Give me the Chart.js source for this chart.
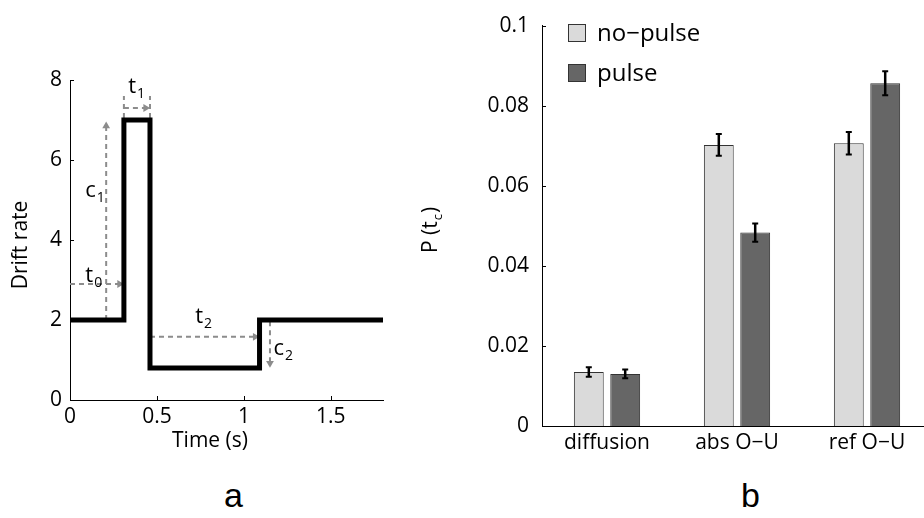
<!DOCTYPE html>
<html>
<head>
<meta charset="utf-8">
<script src="https://cdn.jsdelivr.net/npm/chart.js@4.4.1/dist/chart.umd.min.js"></script>
<style>
  body { margin: 0; width: 924px; height: 518px; overflow: hidden; background: #fff; position: relative; font-family: "Open Sans", sans-serif; }
  #boxA { position: absolute; left: 0; top: 0; }
  #boxB { position: absolute; left: 400px; top: 0; }
  .key { position: absolute; left: 568px; width: 16px; height: 16px; border: 1px solid #333; }
  .keyText { position: absolute; left: 597px; font-size: 24px; line-height: 24px; color: #000; }
  .panel { position: absolute; top: 476px; font-family: "Liberation Sans", Arial, sans-serif; font-size: 34px; color: #000; }
</style>
</head>
<body>
<div id="boxA"><canvas id="driftChart" width="400" height="470"></canvas></div>
<div id="boxB"><canvas id="probChart" width="532" height="470"></canvas></div>

<div class="key" style="top:24px;background:#dadada"></div>
<div class="keyText" style="top:20px">no−pulse</div>
<div class="key" style="top:64px;background:#666"></div>
<div class="keyText" style="top:60px">pulse</div>

<div class="panel" style="left:224px">a</div>
<div class="panel" style="left:741px">b</div>

<script>
// panel a: drift rate step profile
const timePoints = [0, 0.31, 0.46, 1.09, 1.8];
const driftRates = [2, 7, 0.8, 2, 2];
const timeTicks = [0, 0.5, 1, 1.5];
const driftTicks = [0, 2, 4, 6, 8];

// dashed annotation arrows, [start, end] in data units, arrowhead direction in degrees
const arrowT0 = [[0, 2.9], [0.285, 2.9]];
const arrowC1 = [[0.208, 2], [0.208, 6.85]];
const arrowT1 = [[0.31, 7.3], [0.435, 7.3]];
const barT1a = [[0.31, 7.05], [0.31, 7.6]];
const barT1b = [[0.46, 7.05], [0.46, 7.6]];
const arrowT2 = [[0.46, 1.58], [1.065, 1.58]];
const arrowC2 = [[1.15, 1.97], [1.15, 0.92]];
const arrowDirs = [90, 0, 90, null, null, 90, 180];

// annotation labels: main letter, subscript, anchor (left, baseline) in data units
const annLabels = [
  { t: 't', s: '0', x: 0.088, y: 2.95 },
  { t: 'c', s: '1', x: 0.088, y: 5.08 },
  { t: 't', s: '1', x: 0.335, y: 7.68 },
  { t: 't', s: '2', x: 0.72, y: 1.93 },
  { t: 'c', s: '2', x: 1.17, y: 1.13 }
];

// panel b: probability of crossing
const models = ['diffusion', 'abs O\u2212U', 'ref O\u2212U'];
const noPulse = [0.0135, 0.0702, 0.0706];
const pulse = [0.013, 0.0483, 0.0856];
const noPulseErr = [0.0012, 0.0027, 0.0028];
const pulseErr = [0.0011, 0.0023, 0.003];
const probTicks = [0, 0.02, 0.04, 0.06, 0.08, 0.1];

const tickFont = { family: 'Open Sans', size: 21 };
const grey = '#8c8c8c';
const plainLabel = v => String(v);

// MATLAB style ticks pointing into the axes
const inwardTicks = {
  id: 'inwardTicks',
  afterDraw(chart) {
    const ctx = chart.ctx;
    const a = chart.chartArea;
    ctx.save();
    ctx.strokeStyle = '#000';
    ctx.lineWidth = 1;
    ctx.beginPath();
    Object.values(chart.scales).forEach(s => {
      if (s.type !== 'linear') return;
      s.ticks.forEach(t => {
        const p = Math.round(s.getPixelForValue(t.value)) + 0.5;
        if (s.isHorizontal()) { ctx.moveTo(p, a.bottom); ctx.lineTo(p, a.bottom - 4); }
        else { ctx.moveTo(a.left, p); ctx.lineTo(a.left + 4, p); }
      });
    });
    ctx.stroke();
    ctx.restore();
  }
};

function subText(ctx, main, sub, x, y, size, subSize) {
  ctx.font = size + 'px "Open Sans"';
  ctx.textBaseline = 'alphabetic';
  ctx.textAlign = 'left';
  ctx.fillText(main, x, y);
  const w = ctx.measureText(main).width;
  ctx.font = subSize + 'px "Open Sans"';
  ctx.fillText(sub, x + w + 1, y + 5);
}

const driftText = {
  id: 'driftText',
  afterDraw(chart) {
    const ctx = chart.ctx;
    const xs = chart.scales.x, ys = chart.scales.y;
    ctx.save();
    ctx.fillStyle = '#000';
    annLabels.forEach(l => subText(ctx, l.t, l.s, xs.getPixelForValue(l.x), ys.getPixelForValue(l.y), 22, 14));
    ctx.font = '21px "Open Sans"';
    ctx.textAlign = 'center';
    ctx.textBaseline = 'middle';
    ctx.fillText('Time (s)', 210, 441);
    ctx.translate(21, 245);
    ctx.rotate(-Math.PI / 2);
    ctx.fillText('Drift rate', 0, 0);
    ctx.restore();
  }
};

const arrowSets = [arrowT0, arrowC1, arrowT1, barT1a, barT1b, arrowT2, arrowC2].map((pts, i) => ({
  data: pts.map(p => ({ x: p[0], y: p[1] })),
  borderColor: grey,
  borderWidth: 2,
  borderDash: [5, 4],
  pointRadius: arrowDirs[i] === null ? 0 : [0, 4.5],
  pointStyle: 'triangle',
  pointRotation: [0, arrowDirs[i] || 0],
  pointBackgroundColor: grey,
  pointBorderWidth: 0
}));

new Chart(document.getElementById('driftChart'), {
  type: 'line',
  data: {
    datasets: [{
      data: timePoints.map((t, i) => ({ x: t, y: driftRates[i] })),
      stepped: true,
      borderColor: '#000',
      borderWidth: 5,
      borderJoinStyle: 'miter',
      pointRadius: 0
    }].concat(arrowSets)
  },
  options: {
    responsive: false,
    animation: false,
    layout: { padding: { top: 80, right: 17, left: 0, bottom: 0 } },
    plugins: { legend: { display: false }, tooltip: { enabled: false } },
    scales: {
      x: {
        type: 'linear', min: 0, max: 1.8,
        grid: { display: false, drawTicks: false },
        border: { color: '#000', width: 1 },
        ticks: { padding: 4, font: tickFont, color: '#000', callback: plainLabel },
        afterBuildTicks: s => { s.ticks = timeTicks.map(v => ({ value: v })); },
        afterFit: s => { s.height = 70; }
      },
      y: {
        type: 'linear', min: 0, max: 8,
        grid: { display: false, drawTicks: false },
        border: { color: '#000', width: 1 },
        ticks: { padding: 8, font: tickFont, color: '#000', callback: plainLabel },
        afterBuildTicks: s => { s.ticks = driftTicks.map(v => ({ value: v })); },
        afterFit: s => { s.width = 70; }
      }
    }
  },
  plugins: [inwardTicks, driftText]
});

const errorBars = {
  id: 'errorBars',
  afterDatasetsDraw(chart) {
    const ctx = chart.ctx;
    const ys = chart.scales.y;
    ctx.save();
    ctx.strokeStyle = '#000';
    chart.data.datasets.forEach((ds, di) => {
      chart.getDatasetMeta(di).data.forEach((bar, i) => {
        const v = ds.data[i], e = ds.errors[i];
        const top = ys.getPixelForValue(v + e), bot = ys.getPixelForValue(v - e);
        ctx.lineWidth = 2.5;
        ctx.beginPath();
        ctx.moveTo(bar.x, top); ctx.lineTo(bar.x, bot);
        ctx.stroke();
        ctx.lineWidth = 2;
        ctx.beginPath();
        ctx.moveTo(bar.x - 3, top); ctx.lineTo(bar.x + 3, top);
        ctx.moveTo(bar.x - 3, bot); ctx.lineTo(bar.x + 3, bot);
        ctx.stroke();
      });
    });
    ctx.restore();
  }
};

const probText = {
  id: 'probText',
  afterDraw(chart) {
    const ctx = chart.ctx;
    ctx.save();
    ctx.fillStyle = '#000';
    ctx.translate(37, 253);
    ctx.rotate(-Math.PI / 2);
    subText(ctx, 'P (t', 'c', 0, 0, 21, 13);
    const w = ctx.measureText('c').width;
    ctx.font = '21px "Open Sans"';
    const w0 = ctx.measureText('P (t').width;
    ctx.fillText(')', w0 + w + 2, 0);
    ctx.restore();
  }
};

new Chart(document.getElementById('probChart'), {
  type: 'bar',
  data: {
    labels: models,
    datasets: [
      { label: 'no\u2212pulse', data: noPulse, errors: noPulseErr, backgroundColor: '#dadada', borderColor: '#333', borderWidth: 1 },
      { label: 'pulse', data: pulse, errors: pulseErr, backgroundColor: '#666', borderColor: '#333', borderWidth: 1 }
    ]
  },
  options: {
    responsive: false,
    animation: false,
    layout: { padding: { top: 15, right: 0, left: 0, bottom: 0 } },
    datasets: { bar: { barPercentage: 0.82, categoryPercentage: 0.56 } },
    plugins: { legend: { display: false }, tooltip: { enabled: false } },
    scales: {
      x: {
        grid: { display: false, drawTicks: false },
        border: { color: '#000', width: 1 },
        ticks: { padding: 4, font: tickFont, color: '#000' },
        afterFit: s => { s.height = 44; }
      },
      y: {
        type: 'linear', min: 0, max: 0.1,
        grid: { display: false, drawTicks: false },
        border: { color: '#000', width: 1 },
        ticks: { padding: 13, font: tickFont, color: '#000', callback: plainLabel },
        afterBuildTicks: s => { s.ticks = probTicks.map(v => ({ value: v })); },
        afterFit: s => { s.width = 142; }
      }
    }
  },
  plugins: [inwardTicks, errorBars, probText]
});
</script>
</body>
</html>
